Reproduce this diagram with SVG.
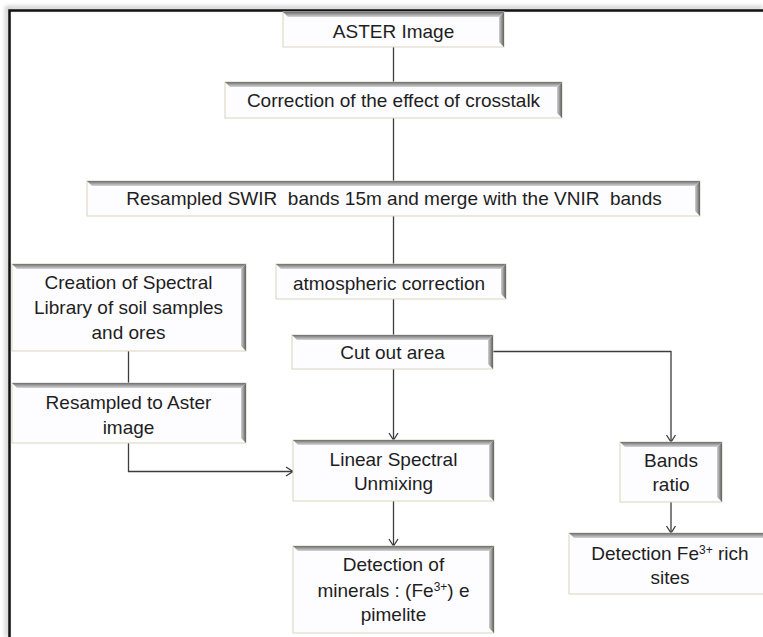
<svg xmlns="http://www.w3.org/2000/svg" width="763" height="637" viewBox="0 0 763 637">
<style>
  .box{fill:#fdfcff;stroke:#d9d5bd;stroke-width:1}
  .tb{fill:url(#gTop)}
  .rb{fill:url(#gRight)}
  .t{font-family:"Liberation Sans",Arial,sans-serif;font-size:19px;fill:#1e1e1e;text-anchor:middle;white-space:pre}
  .c{fill:none;stroke:#3c3c3c;stroke-width:1.3}
  .a{marker-end:url(#arr)}
</style>
<defs>
  <linearGradient id="gTop" x1="0" y1="0" x2="0" y2="1">
    <stop offset="0" stop-color="#6e6e6e"/>
    <stop offset="1" stop-color="#d6d6d6"/>
  </linearGradient>
  <linearGradient id="gRight" x1="0" y1="0" x2="1" y2="0">
    <stop offset="0" stop-color="#d0d0d0"/>
    <stop offset="1" stop-color="#606060"/>
  </linearGradient>
  <marker id="arr" markerWidth="12" markerHeight="12" refX="10" refY="6" orient="auto" markerUnits="userSpaceOnUse">
    <path d="M3,1.5 L10,6 L3,10.5" fill="none" stroke="#3c3c3c" stroke-width="1.3"/>
  </marker>
  <filter id="sh" x="-5%" y="-5%" width="110%" height="110%">
    <feGaussianBlur stdDeviation="2"/>
  </filter>
</defs>
<rect width="763" height="637" fill="#ffffff"/>
<path d="M7,637 V8 H763" fill="none" stroke="#bbbbbb" stroke-width="3" filter="url(#sh)"/>
<path d="M9.5,637 V10.5 H763" fill="none" stroke="#111111" stroke-width="2.5"/>

<g id="connectors">
  <path class="c" d="M393.5,47 V82"/>
  <path class="c" d="M393.5,118 V181"/>
  <path class="c" d="M393.5,216 V264"/>
  <path class="c" d="M393.5,299 V335"/>
  <path class="c a" d="M393.5,369 V440"/>
  <path class="c a" d="M493,351.5 H671 V442"/>
  <path class="c" d="M128.5,351 V383"/>
  <path class="c a" d="M128.5,443 V471.5 H293"/>
  <path class="c a" d="M393.5,501 V546"/>
  <path class="c a" d="M671,502 V533"/>
</g>

<g id="aster-image">
  <rect class="box" x="283" y="12" width="221" height="35"/>
  <polygon class="tb" points="283,12 504,12 499,17 288,17"/>
  <polygon class="rb" points="504,12 504,47 499,42 499,17"/>
  <text class="t" x="393.5" y="38">ASTER Image</text>
</g>
<g id="crosstalk-correction">
  <rect class="box" x="225" y="82" width="337" height="36"/>
  <polygon class="tb" points="225,82 562,82 557,87 230,87"/>
  <polygon class="rb" points="562,82 562,118 557,113 557,87"/>
  <text class="t" x="393.5" y="107">Correction of the effect of crosstalk</text>
</g>
<g id="resample-merge">
  <rect class="box" x="87" y="181" width="613" height="35"/>
  <polygon class="tb" points="87,181 700,181 695,186 92,186"/>
  <polygon class="rb" points="700,181 700,216 695,211 695,186"/>
  <text class="t" x="394" y="205">Resampled SWIR  bands 15m and merge with the VNIR  bands</text>
</g>
<g id="atmospheric-correction">
  <rect class="box" x="276" y="264" width="230" height="35"/>
  <polygon class="tb" points="276,264 506,264 501,269 281,269"/>
  <polygon class="rb" points="506,264 506,299 501,294 501,269"/>
  <text class="t" x="389" y="290">atmospheric correction</text>
</g>
<g id="spectral-library">
  <rect class="box" x="12" y="264" width="234" height="87"/>
  <polygon class="tb" points="12,264 246,264 241,269 17,269"/>
  <polygon class="rb" points="246,264 246,351 241,346 241,269"/>
  <text class="t" x="128.5" y="289">Creation of Spectral</text>
  <text class="t" x="128.5" y="314">Library of soil samples</text>
  <text class="t" x="128.5" y="339">and ores</text>
</g>
<g id="resampled-aster">
  <rect class="box" x="12" y="383" width="234" height="60"/>
  <polygon class="tb" points="12,383 246,383 241,388 17,388"/>
  <polygon class="rb" points="246,383 246,443 241,438 241,388"/>
  <text class="t" x="128.5" y="409">Resampled to Aster</text>
  <text class="t" x="128.5" y="434">image</text>
</g>
<g id="cut-out-area">
  <rect class="box" x="292" y="335" width="201" height="34"/>
  <polygon class="tb" points="292,335 493,335 488,340 297,340"/>
  <polygon class="rb" points="493,335 493,369 488,364 488,340"/>
  <text class="t" x="392.5" y="359">Cut out area</text>
</g>
<g id="linear-unmixing">
  <rect class="box" x="293" y="440" width="201" height="61"/>
  <polygon class="tb" points="293,440 494,440 489,445 298,445"/>
  <polygon class="rb" points="494,440 494,501 489,496 489,445"/>
  <text class="t" x="393.5" y="466">Linear Spectral</text>
  <text class="t" x="393.5" y="490">Unmixing</text>
</g>
<g id="bands-ratio">
  <rect class="box" x="620" y="442" width="102" height="60"/>
  <polygon class="tb" points="620,442 722,442 717,447 625,447"/>
  <polygon class="rb" points="722,442 722,502 717,497 717,447"/>
  <text class="t" x="671" y="467">Bands</text>
  <text class="t" x="671" y="491">ratio</text>
</g>
<g id="detection-minerals">
  <rect class="box" x="293" y="546" width="201" height="87"/>
  <polygon class="tb" points="293,546 494,546 489,551 298,551"/>
  <polygon class="rb" points="494,546 494,633 489,628 489,551"/>
  <text class="t" x="393.5" y="571">Detection of</text>
  <text class="t" x="393.5" y="597">minerals : (Fe<tspan font-size="12" baseline-shift="6">3+</tspan>) e</text>
  <text class="t" x="393.5" y="621">pimelite</text>
</g>
<g id="detection-fe-sites">
  <rect class="box" x="569" y="533" width="203" height="61"/>
  <polygon class="tb" points="569,533 772,533 767,538 574,538"/>
  <text class="t" x="670" y="560">Detection Fe<tspan font-size="12" baseline-shift="6">3+</tspan> rich</text>
  <text class="t" x="670" y="584">sites</text>
</g>
</svg>
